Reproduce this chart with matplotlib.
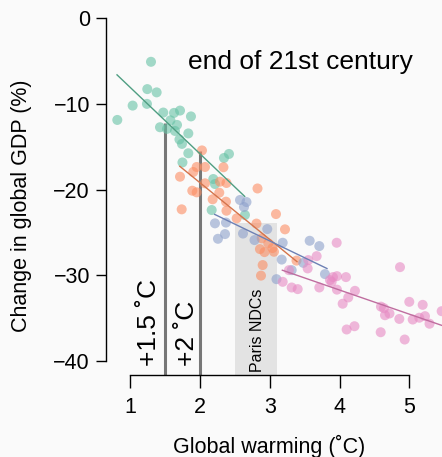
import matplotlib
matplotlib.use("Agg")
import matplotlib.pyplot as plt

plt.rcParams['font.family'] = ['Liberation Sans', 'DejaVu Sans']

# ---------------- data ----------------
green_x = [1.297, 0.814, 1.034, 1.244, 1.378, 1.239, 1.473, 1.627, 1.713, 1.870,
           1.576, 1.426, 1.526, 1.670, 1.832, 1.705, 1.741, 1.832, 1.748, 2.343,
           2.415, 2.190, 2.214, 2.167, 2.644, 1.641]
green_y = [-5.13, -11.9, -10.23, -8.31, -8.69, -10.03, -11.04, -11.08, -10.81, -11.49,
           -11.95, -12.75, -12.94, -12.48, -13.47, -14.17, -14.69, -15.78, -16.85, -16.33,
           -15.86, -18.78, -19.36, -22.39, -22.97, -13.18]

orange_x = [2.028, 1.952, 1.903, 2.071, 2.336, 1.713, 2.286, 2.379, 2.071, 1.889,
            1.952, 2.276, 2.181, 1.737, 2.372, 2.379, 2.824, 3.089, 2.809, 3.218,
            2.525, 2.859, 2.924, 2.978, 3.039, 3.060, 3.383, 2.898, 2.874, 2.884]
orange_y = [-15.45, -17.38, -17.96, -17.38, -17.41, -18.51, -19.09, -19.24, -19.28, -20.14,
            -20.33, -20.37, -21.14, -22.31, -21.42, -22.47, -19.88, -22.86, -23.97, -24.64,
            -23.36, -26.94, -27.29, -26.27, -26.82, -27.25, -28.28, -28.80, -30.03, -25.69]

blue_x = [2.573, 2.666, 2.630, 2.214, 2.372, 2.358, 2.257, 2.616, 2.781, 2.964,
          3.185, 3.572, 3.710, 3.171, 3.314, 3.480, 3.791, 3.096]
blue_y = [-21.22, -21.46, -22.04, -23.94, -23.85, -25.19, -25.74, -25.13, -25.89, -24.61,
          -26.20, -25.97, -26.59, -28.16, -29.39, -28.54, -29.85, -30.44]

pink_x = [3.959, 3.672, 3.552, 3.543, 3.275, 3.185, 3.314, 3.400, 3.710, 3.863,
          3.906, 3.963, 4.092, 3.963, 4.221, 4.125, 4.045, 4.102, 4.214, 4.867,
          4.594, 4.652, 4.716, 4.857, 5.000, 5.192, 5.049, 5.143, 5.225, 5.290,
          5.464, 4.590, 4.934, 3.887, 4.637]
pink_y = [-26.20, -27.76, -28.22, -29.19, -29.39, -30.75, -31.41, -31.60, -31.41, -30.55,
          -30.20, -30.09, -30.20, -31.66, -31.80, -32.57, -33.30, -36.30, -35.92, -29.04,
          -33.64, -34.64, -34.44, -35.07, -33.08, -33.43, -35.14, -34.93, -34.75, -35.63,
          -34.17, -36.62, -37.47, -30.75, -33.82]

# fitted lines (start/end)
green_fit_x = [0.81, 2.64]
green_fit_y = [-6.65, -20.8]
orange_fit_x = [1.71, 3.39]
orange_fit_y = [-17.3, -28.4]
blue_fit_x = [2.21, 3.82]
blue_fit_y = [-22.9, -29.2]
pink_fit_x = [3.18, 5.60]
pink_fit_y = [-29.4, -36.2]

# thresholds and Paris band
thresholds = [1.5, 2.0]
threshold_tops = [-12.2, -15.5]
threshold_labels = ["+1.5 ˚C", "+2 ˚C"]
paris_range = [2.5, 3.1]
paris_top = -23.9

x_ticks = [1, 2, 3, 4, 5]
y_ticks = [0, -10, -20, -30, -40]

# ---------------- figure ----------------
W, H = 442, 457
fig = plt.figure(figsize=(W / 100, H / 100), dpi=100)
fig.patch.set_facecolor('#fafafa')
ax = fig.add_axes([106 / W, 1 - 375 / H, 336 / W, (375 - 4) / H])
ax.set_facecolor('#fafafa')
ax.set_xlim(0.652, 5.469)
ax.set_ylim(-41.6, 1.6)

ymin = ax.get_ylim()[0]
# Paris band
ax.fill_between(paris_range, [ymin, ymin], [paris_top, paris_top],
                color='#e3e3e3', lw=0, zorder=1)
# threshold lines
for xv, yt in zip(thresholds, threshold_tops):
    ax.plot([xv, xv], [ymin, yt], color='#777777', lw=2.2, zorder=2,
            solid_capstyle='butt')

pt_kw = dict(s=52, alpha=0.6, edgecolors='none', zorder=3)
ax.scatter(green_x, green_y, color='#66c2a5', **pt_kw)
ax.scatter(orange_x, orange_y, color='#fc8d62', **pt_kw)
ax.scatter(blue_x, blue_y, color='#8da0cb', **pt_kw)
ax.scatter(pink_x, pink_y, color='#e78ac3', **pt_kw)

ax.plot(green_fit_x, green_fit_y, color='#4f9e82', lw=1.0, zorder=4)
ax.plot(orange_fit_x, orange_fit_y, color='#d4744c', lw=1.0, zorder=4)
ax.plot(blue_fit_x, blue_fit_y, color='#6d80b4', lw=1.0, zorder=4)
ax.plot(pink_fit_x, pink_fit_y, color='#bf6d9f', lw=1.0, zorder=4)

# texts
ax.text(1.268, -40.5, threshold_labels[0], rotation=90, ha='center', va='bottom',
        fontsize=19, zorder=5)
ax.text(1.813, -40.5, threshold_labels[1], rotation=90, ha='center', va='bottom',
        fontsize=19, zorder=5)
ax.text(2.817, -41.3, "Paris NDCs", rotation=90, ha='center', va='bottom',
        fontsize=11.5, zorder=5)
fig.text(300 / W, 1 - 62 / H, "end of 21st century", ha='center', va='center',
         fontsize=19)

# axes styling (R-like)
for s in ['top', 'right']:
    ax.spines[s].set_visible(False)
ax.spines['left'].set_bounds(-40, 0)
ax.spines['bottom'].set_bounds(1, 5)
for s in ['left', 'bottom']:
    ax.spines[s].set_linewidth(1.0)
ax.set_xticks(x_ticks)
ax.set_xticklabels([str(v) for v in x_ticks])
ax.set_yticks(y_ticks)
ax.set_yticklabels([str(v).replace('-', '\u2212') for v in y_ticks])
ax.tick_params(axis='x', length=9, width=1.0, pad=7, labelsize=15.5)
ax.tick_params(axis='y', length=7.5, width=1.0, pad=4, labelsize=15.5)

fig.text(269.5 / W, 1 - 446 / H, "Global warming (˚C)", ha='center', va='center',
         fontsize=15.5)
fig.text(22 / W, 1 - 206 / H, "Change in global GDP (%)", ha='center', va='center',
         rotation=90, fontsize=15.5)

fig.savefig('out.png', dpi=100, facecolor=fig.get_facecolor())
